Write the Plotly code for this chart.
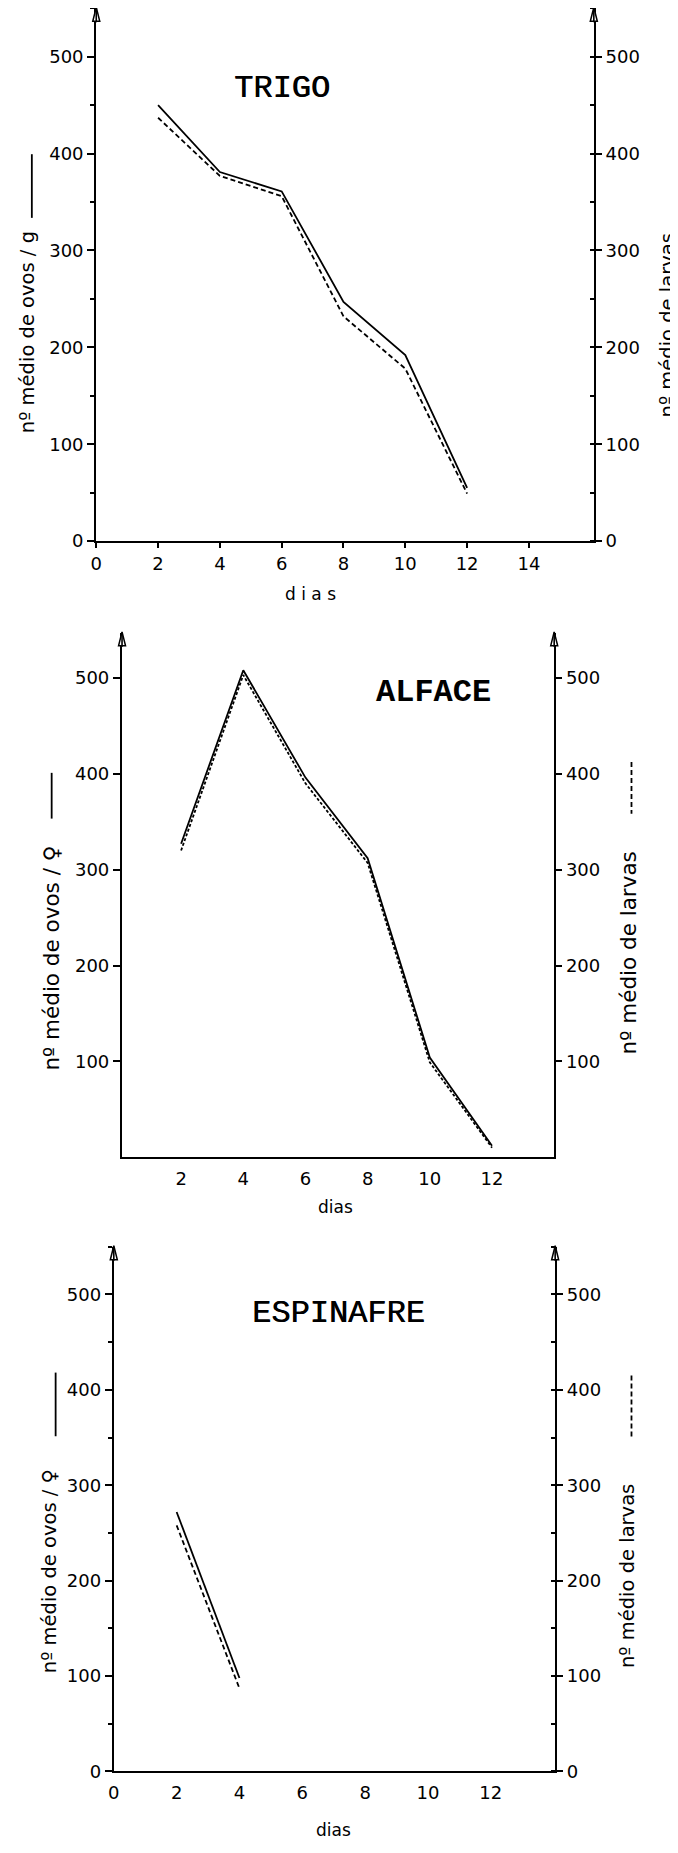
import plotly.graph_objects as go

W, H = 678, 1853
# the page body adds an 8 px margin around the plot; positions below are page pixels
OFFX, OFFY = 8, 8

# ---------------- data ----------------
days_trigo = [2, 4, 6, 8, 10, 12]
ovos_trigo = [450, 381, 361, 247, 192, 55]
larvas_trigo = [437, 377, 356, 232, 178, 49]

days_alface = [2, 4, 6, 8, 10, 12]
ovos_alface = [327, 508, 396, 312, 104, 12]
larvas_alface = [320, 503, 390, 307, 99, 10]

days_espinafre = [2, 4]
ovos_espinafre = [272, 98]
larvas_espinafre = [258, 87]

yticks_trigo = [0, 100, 200, 300, 400, 500]
yticks_alface = [100, 200, 300, 400, 500]
yticks_espinafre = [0, 100, 200, 300, 400, 500]
xticks_trigo = [0, 2, 4, 6, 8, 10, 12, 14]
xticks_alface = [2, 4, 6, 8, 10, 12]
xticks_espinafre = [0, 2, 4, 6, 8, 10, 12]

titles = ["TRIGO", "ALFACE", "ESPINAFRE"]
left_titles = ["nº médio de ovos / g", "nº médio de ovos / ♀", "nº médio de ovos / ♀"]
right_title = "nº médio de larvas"
x_titles = ["d i a s", "dias", "dias"]

# ---------------- helpers ----------------
def px(v):
    return (v - OFFX) / W

def py(v):
    return 1 - (v - OFFY) / H

TICKFONT = dict(family="DejaVu Sans", size=18, color="black")

fig = go.Figure()

# panel geometry (page pixels) and styling
panels = [
    dict(xl=91, xr=593, y0=544, ytop=8.3, xrange=[0, 16.1], yrange=[0, 550],
         days=days_trigo, ovos=ovos_trigo, larvas=larvas_trigo,
         yt=yticks_trigo, xt=xticks_trigo, minor=True, xtick_len=5, dash="5px,3px",
         title_xy=(6.0, 467), title_weight="normal",
         lt=(21, 334, 19.5), lsym=(26, 155, 219), rt=(667, 327, 19.5), rsym=(671, 153, 217),
         xt_pos=(307, 597)),
    dict(xl=117, xr=553, y0=1163.5, ytop=636.2, xrange=[0.1, 14.0], yrange=[0, 547],
         days=days_alface, ovos=ovos_alface, larvas=larvas_alface,
         yt=yticks_alface, xt=xticks_alface, minor=False, xtick_len=0, dash="3px,2px",
         title_xy=(10.13, 485), title_weight="bold",
         lt=(46, 963, 21.5), lsym=(46, 777, 823), rt=(628, 958, 21.5), rsym=(631, 766, 818),
         xt_pos=(332, 1214)),
    dict(xl=108.7, xr=554, y0=1781, ytop=1253.5, xrange=[0, 14.05], yrange=[0, 550],
         days=days_espinafre, ovos=ovos_espinafre, larvas=larvas_espinafre,
         yt=yticks_espinafre, xt=xticks_espinafre, minor=True, xtick_len=0, dash="5px,3px",
         title_xy=(7.16, 480), title_weight="normal",
         lt=(44, 1580, 19.5), lsym=(50, 1380, 1444), rt=(627, 1585, 19.5), rsym=(631, 1383, 1446),
         xt_pos=(330, 1840)),
]

annotations = []
shapes = []
layout = {}

for i, p in enumerate(panels):
    xn = "" if i == 0 else str(i + 1)
    yl = "" if i == 0 else str(2 * i + 1)
    yr = str(2 * i + 2)
    xname, ylname, yrname = "x" + xn, "y" + yl, "y" + yr

    fig.add_trace(go.Scatter(x=p["days"], y=p["ovos"], mode="lines",
                             line=dict(color="black", width=1.8),
                             xaxis=xname, yaxis=ylname, showlegend=False))
    fig.add_trace(go.Scatter(x=p["days"], y=p["larvas"], mode="lines",
                             line=dict(color="black", width=1.8, dash=p["dash"]),
                             xaxis=xname, yaxis=yrname, showlegend=False))

    xdom = [px(p["xl"]), px(p["xr"])]
    ydom = [py(p["y0"]), min(py(p["ytop"]), 1.0)]

    layout["xaxis" + xn] = dict(
        domain=xdom, range=p["xrange"], anchor=ylname,
        showline=True, linecolor="black", linewidth=2.2,
        showgrid=False, zeroline=False,
        tickmode="array", tickvals=p["xt"], ticktext=[str(v) for v in p["xt"]],
        ticks="outside", ticklen=max(p["xtick_len"], 4),
        tickcolor="black" if p["xtick_len"] else "rgba(0,0,0,0)",
        tickwidth=1.5, tickfont=TICKFONT,
    )
    minor_left = dict(dtick=50, tick0=0, ticks="outside", ticklen=4,
                      tickcolor="black", tickwidth=1.5) if p["minor"] else dict(ticks="")
    minor_right = dict(dtick=50, tick0=0, ticks="inside", ticklen=4,
                       tickcolor="black", tickwidth=1.5) if p["minor"] else dict(ticks="")
    layout["yaxis" + yl] = dict(
        domain=ydom, range=p["yrange"], anchor=xname,
        showline=True, linecolor="black", linewidth=2.2,
        showgrid=False, zeroline=False,
        tickmode="array", tickvals=p["yt"], ticktext=[str(v) for v in p["yt"]],
        ticks="outside", ticklen=7, tickwidth=1.5, tickcolor="black",
        tickfont=TICKFONT, minor=minor_left,
    )
    layout["yaxis" + yr] = dict(
        domain=ydom, range=p["yrange"], anchor=xname, overlaying=ylname, side="right",
        showline=True, linecolor="black", linewidth=2.2,
        showgrid=False, zeroline=False,
        tickmode="array", tickvals=p["yt"], ticktext=[str(v) for v in p["yt"]],
        ticks="outside", ticklen=6, tickwidth=1.5, tickcolor="black",
        tickfont=TICKFONT, minor=minor_right,
    )

    # hollow arrow heads on top of both vertical axes
    for xa in (0, 1):
        shapes.append(dict(
            type="path", xref=xname + " domain", yref=ylname + " domain",
            xsizemode="pixel", ysizemode="pixel", xanchor=xa, yanchor=1,
            path="M -3.5,-13 L 0,1 L 3.5,-13 Z",
            line=dict(color="black", width=1.5), fillcolor="white", layer="above",
        ))
        shapes.append(dict(
            type="line", xref=xname + " domain", yref=ylname + " domain",
            xsizemode="pixel", ysizemode="pixel", xanchor=xa, yanchor=1,
            x0=0, x1=0, y0=-14, y1=0,
            line=dict(color="black", width=1.6), layer="above",
        ))

    # panel title
    tfont = dict(family="Liberation Mono", size=32, color="black", weight=p["title_weight"])
    if p["title_weight"] == "normal":
        tfont["shadow"] = "0.6px 0px 0px black"
    annotations.append(dict(
        x=p["title_xy"][0], y=p["title_xy"][1], xref=xname, yref=ylname,
        xanchor="center", yanchor="middle",
        text=titles[i], showarrow=False, font=tfont,
    ))
    # axis titles
    annotations.append(dict(
        x=px(p["lt"][0]), y=py(p["lt"][1]), xref="paper", yref="paper",
        xanchor="center", yanchor="middle",
        text=left_titles[i], textangle=-90, showarrow=False,
        font=dict(family="DejaVu Sans", size=p["lt"][2], color="black"),
    ))
    annotations.append(dict(
        x=px(p["rt"][0]), y=py(p["rt"][1]), xref="paper", yref="paper",
        xanchor="center", yanchor="middle",
        text=right_title, textangle=-90, showarrow=False,
        font=dict(family="DejaVu Sans", size=p["rt"][2], color="black"),
    ))
    annotations.append(dict(
        x=px(p["xt_pos"][0]), y=py(p["xt_pos"][1]), xref="paper", yref="paper",
        xanchor="center", yanchor="middle",
        text=x_titles[i], showarrow=False,
        font=dict(family="DejaVu Sans", size=17, color="black"),
    ))
    # legend-like symbols beside axis titles
    lx, ly0, ly1 = p["lsym"]
    shapes.append(dict(type="line", xref="paper", yref="paper",
                       x0=px(lx), x1=px(lx), y0=py(ly0), y1=py(ly1),
                       line=dict(color="black", width=1.8)))
    rx, ry0, ry1 = p["rsym"]
    shapes.append(dict(type="line", xref="paper", yref="paper",
                       x0=px(rx), x1=px(rx), y0=py(ry0), y1=py(ry1),
                       line=dict(color="black", width=1.8, dash="5px,3px")))

fig.update_layout(
    width=W, height=H,
    margin=dict(l=0, r=0, t=0, b=0),
    paper_bgcolor="white", plot_bgcolor="white",
    showlegend=False,
    annotations=annotations, shapes=shapes,
    **layout,
)

fig.write_html("out.html")
